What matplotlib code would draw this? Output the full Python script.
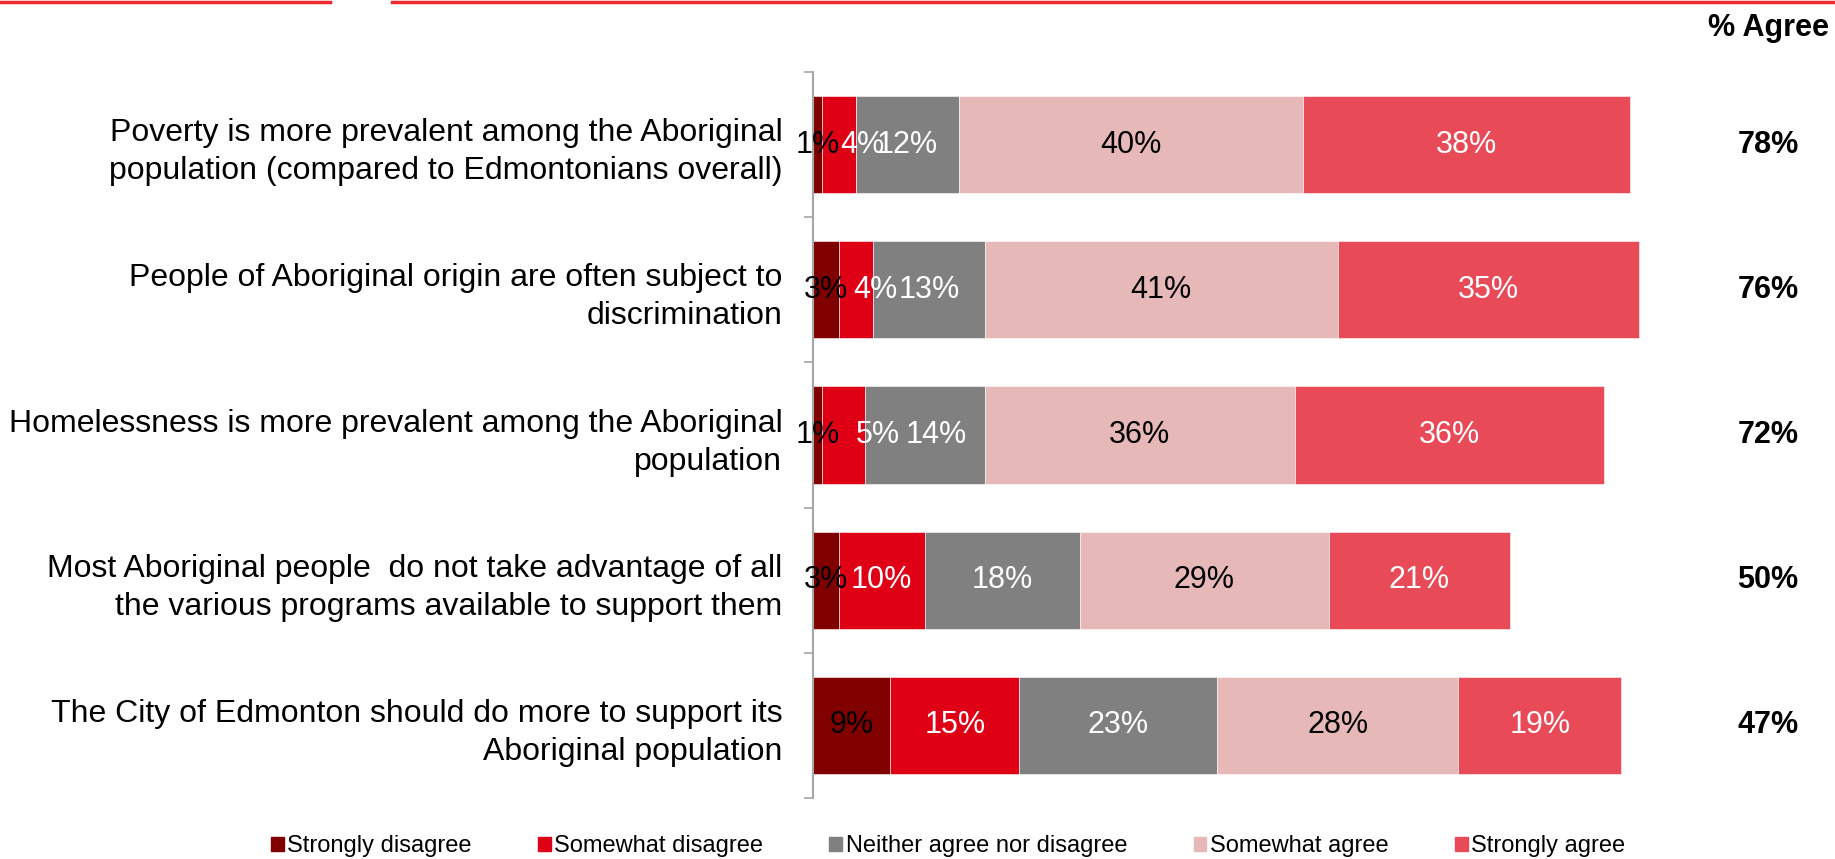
import matplotlib.pyplot as plt
from matplotlib.lines import Line2D
from matplotlib.patches import Patch


CATEGORIES = [
    "Poverty is more prevalent among the Aboriginal\npopulation (compared to Edmontonians overall)",
    "People of Aboriginal origin are often subject to\ndiscrimination",
    "Homelessness is more prevalent among the Aboriginal\npopulation",
    "Most Aboriginal people  do not take advantage of all\nthe various programs available to support them",
    "The City of Edmonton should do more to support its\nAboriginal population",
]

SERIES_NAMES = [
    "Strongly disagree",
    "Somewhat disagree",
    "Neither agree nor disagree",
    "Somewhat agree",
    "Strongly agree",
]

strongly_disagree = [1, 3, 1, 3, 9]
somewhat_disagree = [4, 4, 5, 10, 15]
neither = [12, 13, 14, 18, 23]
somewhat_agree = [40, 41, 36, 29, 28]
strongly_agree = [38, 35, 36, 21, 19]

agree_totals = [78, 76, 72, 50, 47]

COLORS = ["#800000", "#E00016", "#808080", "#E6B9B8", "#E84A58"]
LABEL_COLORS = ["black", "white", "white", "black", "white"]

# Excel pushed a few crowded labels to the right (in % units)
LABEL_NUDGE = {
    (0, 1): 2.7,
    (1, 1): 2.3,
    (2, 1): 4.0,
    (2, 2): 1.3,
}


def main():
    plt.rcParams["font.family"] = ["Liberation Sans", "DejaVu Sans"]

    fig = plt.figure(figsize=(18.35, 8.59), dpi=100)
    ax = fig.add_axes([813 / 1835, 61 / 859, 860 / 1835, 726 / 859])

    series = [
        strongly_disagree,
        somewhat_disagree,
        neither,
        somewhat_agree,
        strongly_agree,
    ]

    y_pos = list(range(len(CATEGORIES)))
    left = [0] * len(CATEGORIES)

    for s, values in enumerate(series):
        ax.barh(
            y_pos,
            values,
            left=left,
            height=0.67,
            color=COLORS[s],
            edgecolor="white",
            linewidth=0.4,
            label=SERIES_NAMES[s],
        )
        for row, value in enumerate(values):
            x = left[row] + value / 2 + LABEL_NUDGE.get((row, s), 0)
            ax.text(
                x,
                row,
                f"{value}%",
                ha="center",
                va="center",
                fontsize=22,
                color=LABEL_COLORS[s],
            )
        left = [a + b for a, b in zip(left, values)]

    # agree totals on the right
    for row, total in enumerate(agree_totals):
        ax.text(
            1.1105,
            row,
            f"{total}%",
            transform=ax.get_yaxis_transform(),
            ha="center",
            va="center",
            fontsize=22,
            fontweight="bold",
        )

    fig.text(
        1768 / 1835,
        1 - 28 / 859,
        "% Agree",
        ha="center",
        va="center",
        fontsize=22,
        fontweight="bold",
    )

    ax.set_xlim(0, 100)
    ax.set_ylim(len(CATEGORIES) - 0.5, -0.5)

    ax.set_xticks([])
    ax.set_yticks([y - 0.5 for y in range(len(CATEGORIES) + 1)])
    ax.set_yticklabels([])
    ax.set_yticks(y_pos, CATEGORIES, minor=True)
    ax.tick_params(
        axis="y",
        which="major",
        length=6.5,
        width=1.2,
        color="#A6A6A6",
    )
    ax.tick_params(
        axis="y",
        which="minor",
        length=0,
        pad=22,
        labelsize=23,
    )
    for label in ax.get_yticklabels(minor=True):
        label.set_linespacing(1.35)

    for side in ["top", "right", "bottom"]:
        ax.spines[side].set_visible(False)
    ax.spines["left"].set_color("#A6A6A6")
    ax.spines["left"].set_linewidth(1.5)

    handles = [Patch(color=c) for c in COLORS]
    fig.legend(
        handles,
        SERIES_NAMES,
        loc="center",
        bbox_to_anchor=(948 / 1835, 13 / 859),
        ncol=5,
        frameon=False,
        fontsize=17,
        handlelength=0.55,
        handleheight=0.55,
        handletextpad=0.15,
        columnspacing=2.8,
        borderaxespad=0,
        borderpad=0,
    )

    # red rule along the top edge, with a gap
    top_y = 1 - 1.5 / 859
    fig.add_artist(Line2D([0, 330 / 1835], [top_y, top_y], color="#EE2A2F", linewidth=2.5))
    fig.add_artist(Line2D([392 / 1835, 1], [top_y, top_y], color="#EE2A2F", linewidth=2.5))

    fig.savefig("out.png", dpi=100)
    plt.close(fig)


if __name__ == "__main__":
    main()
